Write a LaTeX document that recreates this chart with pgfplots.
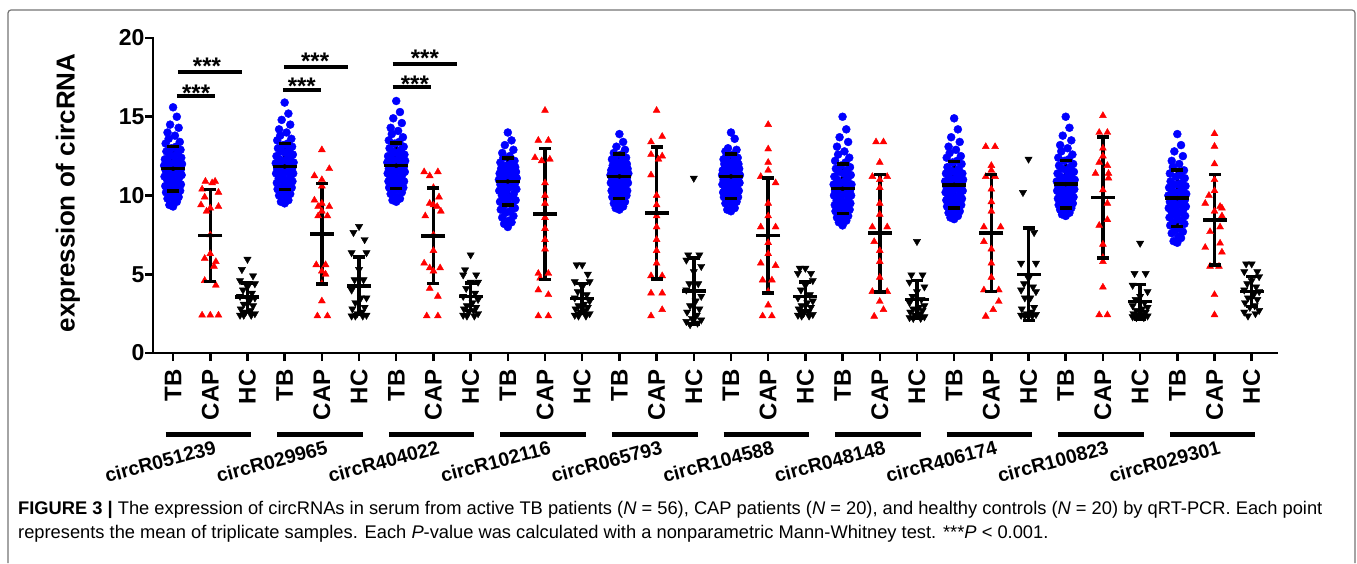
\documentclass[border=0pt]{standalone}
\usepackage{pgfplots}
\pgfplotsset{compat=1.18}
\usepackage{pgfplotstable}
\usepackage{fontspec}
\setmainfont{Liberation Sans}

% TB (N=56): jitter dx, then one column per circRNA
\pgfplotstableread{
dx t1 t2 t3 t4 t5 t6 t7 t8 t9 t10
0.00 15.6 15.9 16.0 14.0 13.9 14.0 15.0 14.9 15.0 13.9
0.10 15.0 15.2 15.3 13.5 13.4 13.6 14.2 14.2 14.3 13.2
-0.08 14.5 14.8 14.9 13.2 13.1 13.0 13.7 13.7 13.8 12.8
0.15 14.3 14.5 14.6 12.9 12.9 12.9 13.4 13.4 13.5 12.5
-0.15 14.0 14.2 14.3 12.7 12.7 12.8 13.1 13.1 13.2 12.2
0.05 13.8 14.0 14.1 12.5 12.6 12.6 12.8 12.9 13.0 12.0
-0.12 13.6 13.8 13.9 12.4 12.5 12.5 12.6 12.7 12.8 11.8
0.18 13.4 13.6 13.7 12.2 12.4 12.4 12.4 12.5 12.6 11.6
-0.20 13.3 13.5 13.5 12.1 12.3 12.3 12.2 12.4 12.4 11.4
0.08 13.1 13.3 13.4 12.0 12.2 12.2 12.1 12.2 12.3 11.3
-0.04 13.0 13.2 13.3 11.9 12.1 12.1 11.9 12.1 12.2 11.2
0.20 12.9 13.1 13.1 11.8 12.0 12.0 11.8 12.0 12.0 11.1
-0.18 12.8 13.0 13.0 11.7 11.9 12.0 11.7 11.8 11.9 10.9
0.12 12.7 12.9 12.9 11.7 11.9 11.9 11.6 11.7 11.8 10.8
-0.10 12.6 12.8 12.8 11.6 11.8 11.8 11.5 11.6 11.7 10.7
0.02 12.5 12.7 12.7 11.5 11.7 11.7 11.4 11.5 11.6 10.7
0.22 12.4 12.6 12.6 11.5 11.7 11.7 11.3 11.4 11.5 10.6
-0.22 12.3 12.5 12.5 11.4 11.6 11.6 11.2 11.4 11.4 10.5
0.14 12.2 12.4 12.5 11.3 11.6 11.5 11.1 11.3 11.3 10.4
-0.14 12.2 12.3 12.4 11.3 11.5 11.5 11.0 11.2 11.2 10.3
0.06 12.1 12.25 12.3 11.2 11.5 11.4 10.9 11.1 11.2 10.2
-0.06 12.0 12.2 12.2 11.1 11.4 11.4 10.8 11.0 11.1 10.2
0.24 12.0 12.1 12.2 11.1 11.4 11.3 10.7 11.0 11.0 10.1
-0.24 11.9 12.05 12.1 11.0 11.3 11.3 10.7 10.9 10.9 10.0
0.17 11.8 12.0 12.0 11.0 11.3 11.3 10.6 10.8 10.9 10.0
-0.17 11.8 11.9 12.0 11.0 11.3 11.2 10.5 10.8 10.8 9.9
0.10 11.7 11.9 11.9 10.9 11.2 11.2 10.5 10.7 10.8 9.9
-0.01 11.7 11.8 11.9 10.9 11.2 11.2 10.4 10.7 10.7 9.8
-0.10 11.7 11.8 11.8 10.8 11.2 11.1 10.4 10.6 10.7 9.8
0.20 11.6 11.7 11.8 10.8 11.1 11.1 10.3 10.6 10.6 9.7
-0.20 11.6 11.7 11.7 10.7 11.1 11.0 10.3 10.5 10.6 9.6
0.13 11.5 11.6 11.7 10.6 11.0 11.0 10.2 10.5 10.5 9.6
-0.13 11.4 11.6 11.6 10.5 11.0 10.9 10.2 10.4 10.5 9.5
0.04 11.4 11.5 11.6 10.5 10.9 10.9 10.1 10.4 10.4 9.4
0.23 11.3 11.4 11.5 10.4 10.8 10.8 10.0 10.3 10.4 9.3
-0.23 11.2 11.4 11.4 10.3 10.8 10.7 10.0 10.2 10.3 9.2
-0.05 11.1 11.3 11.3 10.2 10.7 10.7 9.9 10.2 10.2 9.2
0.16 11.1 11.2 11.3 10.1 10.6 10.6 9.8 10.1 10.2 9.1
-0.16 11.0 11.1 11.2 10.0 10.6 10.5 9.7 10.0 10.1 9.0
0.08 10.9 11.0 11.1 9.9 10.5 10.5 9.6 9.9 10.0 8.9
-0.08 10.8 11.0 11.0 9.8 10.4 10.4 9.6 9.8 9.9 8.8
0.21 10.7 10.9 10.9 9.7 10.3 10.3 9.5 9.8 9.9 8.7
-0.21 10.6 10.8 10.9 9.6 10.3 10.2 9.4 9.7 9.8 8.6
0.00 10.5 10.7 10.8 9.5 10.2 10.2 9.3 9.6 9.7 8.5
0.12 10.5 10.6 10.7 9.4 10.1 10.1 9.2 9.5 9.7 8.4
-0.12 10.4 10.5 10.6 9.3 10.0 10.0 9.2 9.4 9.6 8.3
0.19 10.3 10.5 10.5 9.2 10.0 9.9 9.1 9.4 9.5 8.2
-0.19 10.2 10.4 10.5 9.1 9.9 9.9 9.0 9.3 9.4 8.1
0.06 10.1 10.3 10.4 9.0 9.8 9.8 8.9 9.2 9.4 7.9
-0.06 10.0 10.2 10.3 8.9 9.7 9.7 8.8 9.1 9.3 7.8
0.15 9.9 10.1 10.2 8.7 9.6 9.6 8.7 9.0 9.2 7.7
-0.15 9.8 10.0 10.1 8.6 9.5 9.5 8.6 8.9 9.1 7.6
0.03 9.7 9.9 9.9 8.4 9.4 9.4 8.5 8.8 9.0 7.4
0.10 9.6 9.7 9.8 8.3 9.3 9.2 8.4 8.7 8.9 7.3
-0.10 9.4 9.6 9.7 8.2 9.2 9.1 8.3 8.6 8.8 7.1
0.00 9.3 9.5 9.6 8.0 9.1 9.0 8.1 8.5 8.7 7.0
}\tbdata

% CAP (N=20): dx and value per circRNA
\pgfplotstableread{
d1 c1 d2 c2 d3 c3 d4 c4 d5 c5 d6 c6 d7 c7 d8 c8 d9 c9 d10 c10
-0.13 10.9 0.00 12.9 -0.25 11.5 0.00 15.4 0.00 15.4 0.00 14.5 -0.10 13.4 -0.15 13.1 0.00 15.07 0.00 13.92
0.13 10.9 0.20 11.7 0.12 11.5 -0.18 13.5 0.15 13.75 0.00 12.95 0.10 13.4 0.10 13.1 -0.10 14.0 0.00 13.12
0.05 10.8 -0.20 11.25 -0.10 11.25 0.09 13.5 -0.15 13.4 0.00 12.1 0.00 12.1 0.00 11.9 0.12 14.0 0.00 12.0
-0.22 10.4 0.00 11.0 0.00 10.5 -0.27 12.4 -0.15 12.6 0.00 11.6 -0.20 11.2 0.00 11.6 0.00 13.0 0.00 11.0
0.22 10.2 0.00 10.6 0.15 9.9 0.13 12.3 0.15 12.5 -0.20 11.2 0.20 11.2 -0.15 11.2 0.00 12.5 0.00 10.3
-0.15 9.9 -0.20 9.7 -0.10 9.5 -0.09 12.2 0.05 12.3 0.20 10.8 0.00 11.0 0.10 11.2 -0.10 12.1 -0.15 10.0
-0.25 9.4 0.00 9.5 0.00 9.4 0.00 10.8 -0.15 11.3 0.00 9.5 0.00 10.5 0.00 10.4 0.12 11.9 -0.25 9.5
0.22 9.3 0.20 9.3 0.10 9.3 0.00 10.0 0.00 10.0 0.00 8.7 0.00 9.5 0.00 9.6 -0.20 11.4 0.15 9.3
0.00 9.2 -0.10 9.3 0.20 9.0 0.00 9.5 0.00 9.4 -0.20 8.0 0.00 8.8 0.00 9.0 0.15 11.4 0.20 9.2
-0.10 9.0 0.00 9.0 -0.22 8.7 0.00 8.6 0.00 8.7 0.20 8.0 -0.20 8.0 -0.20 8.0 0.15 11.1 0.00 9.0
0.00 7.5 -0.10 8.7 0.00 7.5 0.00 7.9 0.00 8.0 0.00 7.0 0.20 8.0 0.25 8.0 0.00 10.35 0.20 8.7
0.00 6.3 0.15 8.7 0.00 6.5 0.00 7.2 0.00 7.2 0.00 6.3 -0.15 7.07 -0.20 7.07 0.12 9.5 0.15 8.0
-0.15 6.0 -0.15 5.6 -0.25 5.7 0.00 6.6 0.00 6.5 -0.20 5.7 0.00 6.5 0.00 6.6 0.12 8.46 -0.12 7.7
0.15 5.8 0.10 5.6 -0.10 5.4 -0.18 5.05 0.00 5.7 0.20 5.55 0.00 5.8 0.00 5.7 -0.10 8.1 0.15 6.97
0.10 5.5 0.00 5.2 0.18 5.4 0.09 5.05 -0.15 4.9 -0.15 4.63 0.00 4.8 0.00 4.8 0.00 6.9 -0.25 6.7
-0.15 4.6 0.10 5.0 0.00 5.2 -0.13 4.75 0.15 4.9 0.10 4.63 -0.20 3.9 -0.20 4.0 0.00 6.06 0.20 6.4
0.15 4.3 0.00 4.4 -0.10 4.1 -0.18 4.0 -0.15 3.8 0.00 3.9 0.20 3.9 0.20 4.0 0.00 5.8 -0.12 5.5
-0.22 2.4 0.00 3.3 0.12 3.6 0.09 3.7 0.15 3.8 0.00 3.04 0.00 3.27 0.20 3.27 0.00 4.18 0.12 5.5
0.00 2.4 -0.12 2.35 -0.18 2.35 -0.18 2.35 0.15 2.75 -0.15 2.35 0.10 2.75 0.05 2.75 -0.10 2.42 0.00 3.7
0.22 2.4 0.15 2.35 0.12 2.35 0.09 2.35 -0.15 2.35 0.10 2.35 -0.15 2.33 -0.15 2.33 0.12 2.42 0.00 2.42
}\capdata

% HC (N=20)
\pgfplotstableread{
dx h1 h2 h3 h4 h5 h6 h7 h8 h9 h10
0.00 5.95 8.03 6.23 5.6 11.1 5.38 7.08 12.31 6.97 5.66
-0.15 5.3 7.65 5.28 5.6 6.23 5.38 4.96 10.19 5.05 5.66
0.15 4.9 7.2 4.96 5.0 6.23 5.05 4.96 7.65 5.05 5.17
-0.20 4.6 6.37 4.96 4.53 5.9 5.05 4.5 5.7 4.3 5.17
0.20 4.4 6.37 4.5 4.53 5.5 4.6 4.2 5.7 3.9 4.85
0.00 4.2 5.3 4.5 4.2 5.17 4.3 3.9 4.75 3.6 4.6
-0.12 4.0 4.65 4.1 3.9 4.4 4.0 3.6 4.4 3.4 4.4
0.12 3.8 4.65 3.8 3.7 4.4 3.7 3.4 4.2 3.2 4.2
-0.20 3.6 4.0 3.6 3.5 4.0 3.5 3.2 4.0 3.0 4.0
0.20 3.5 3.5 3.4 3.3 3.6 3.3 3.0 3.9 2.9 3.9
0.05 3.3 3.5 3.2 3.1 3.3 3.2 2.9 3.5 2.8 3.7
-0.10 3.1 3.2 3.0 3.0 3.0 3.0 2.8 3.5 2.7 3.5
0.15 3.0 2.9 2.9 2.9 2.8 2.9 2.7 2.9 2.6 3.4
-0.18 2.8 2.8 2.8 2.8 2.6 2.8 2.6 2.8 2.5 3.2
0.08 2.7 2.6 2.7 2.7 2.4 2.6 2.5 2.6 2.45 3.0
-0.05 2.6 2.5 2.6 2.6 2.2 2.5 2.4 2.5 2.4 2.9
0.20 2.5 2.4 2.5 2.5 2.1 2.45 2.3 2.45 2.35 2.7
-0.20 2.4 2.35 2.4 2.4 2.0 2.4 2.25 2.4 2.3 2.6
0.10 2.4 2.35 2.35 2.35 1.9 2.35 2.2 2.35 2.25 2.5
-0.10 2.4 2.35 2.35 2.35 1.8 2.35 2.2 2.35 2.25 2.35
}\hcdata

% mean and SD per column
\pgfplotstableread{
x m s
0 11.70 1.42
1 7.46 2.91
2 3.54 0.89
3 11.84 1.45
4 7.57 3.20
5 4.26 1.82
6 11.89 1.45
7 7.44 3.04
8 3.58 0.87
9 10.89 1.49
10 8.82 4.16
11 3.47 0.95
12 11.21 1.41
13 8.88 4.19
14 3.94 2.10
15 11.21 1.41
16 7.46 3.65
17 3.58 0.92
18 10.43 1.57
19 7.61 3.73
20 3.41 1.20
21 10.68 1.48
22 7.61 3.71
23 5.00 2.95
24 10.72 1.50
25 9.87 3.83
26 3.26 1.10
27 9.83 1.80
28 8.46 2.86
29 3.90 0.95
}\stats

\begin{document}
\begin{tikzpicture}
\path (0pt,0pt) rectangle (1357pt,-563pt);
\begin{axis}[
  at={(153pt,-353pt)}, anchor=south west,
  scale only axis, width=1124pt, height=315pt,
  xmin=-0.54, xmax=29.68, ymin=0, ymax=20,
  axis x line=bottom, axis y line=left,
  axis line style={line width=2.5pt, -, line cap=rect},
  xtick={0,...,29},
  xticklabels={TB,CAP,HC,TB,CAP,HC,TB,CAP,HC,TB,CAP,HC,TB,CAP,HC,TB,CAP,HC,TB,CAP,HC,TB,CAP,HC,TB,CAP,HC,TB,CAP,HC},
  ytick={0,5,10,15,20}, yticklabels={0,5,10,15,20},
  tick align=outside, major tick length=8pt,
  tick style={line width=2.5pt, black},
  xticklabel shift=5pt,
  yticklabel shift=-3pt,
  x tick label style={rotate=90, anchor=east, font=\bfseries\fontsize{24}{28}\selectfont},
  y tick label style={font=\bfseries\fontsize{23}{27}\selectfont},
  clip=false,
]
\pgfplotsinvokeforeach{1,...,10}{
  \addplot[only marks, mark=*, mark size=4pt, mark options={draw=blue, fill=blue}]
    table[x expr=\thisrow{dx}+3*#1-3, y=t#1] {\tbdata};
  \addplot[only marks, mark=triangle*, mark size=4pt, mark options={draw=red, fill=red}]
    table[x expr=\thisrow{d#1}+3*#1-2, y=c#1] {\capdata};
  \addplot[only marks, mark=triangle*, mark size=4.2pt, mark options={draw=black, fill=black, rotate=180}]
    table[x expr=\thisrow{dx}+3*#1-1, y=h#1] {\hcdata};
}
% SD bars, caps and means
\addplot[only marks, mark=none, error bars/.cd, y dir=both, y explicit, error mark=none,
  error bar style={line width=3.5pt, black}]
  table[x=x, y=m, y error=s] {\stats};
\addplot[only marks, mark=-, mark size=6pt, mark options={line width=3.5pt, black}]
  table[x=x, y expr=\thisrow{m}+\thisrow{s}] {\stats};
\addplot[only marks, mark=-, mark size=6pt, mark options={line width=3.5pt, black}]
  table[x=x, y expr=\thisrow{m}-\thisrow{s}] {\stats};
\addplot[only marks, mark=-, mark size=12pt, mark options={line width=3.5pt, black}]
  table[x=x, y=m] {\stats};

% significance
\draw[line width=4pt] (axis cs:0.10,16.34) -- (axis cs:1.13,16.34);
\draw[line width=4pt] (axis cs:0.13,17.82) -- (axis cs:1.84,17.82);
\draw[line width=4pt] (axis cs:2.95,16.70) -- (axis cs:3.99,16.70);
\draw[line width=4pt] (axis cs:2.98,18.14) -- (axis cs:4.69,18.14);
\draw[line width=4pt] (axis cs:5.90,16.91) -- (axis cs:6.94,16.91);
\draw[line width=4pt] (axis cs:5.90,18.35) -- (axis cs:7.64,18.35);
\tikzset{star/.style={anchor=base, inner sep=0pt, font=\bfseries\fontsize{24}{28}\selectfont}}
\node[star] at (axis cs:0.62,15.97) {***};
\node[star] at (axis cs:0.91,17.71) {***};
\node[star] at (axis cs:3.46,16.44) {***};
\node[star] at (axis cs:3.82,17.97) {***};
\node[star] at (axis cs:6.50,16.55) {***};
\node[star] at (axis cs:6.77,18.16) {***};

% group underlines and names
\pgfplotsinvokeforeach{0,...,9}{
  \draw[line width=4.5pt] (axis cs:3*#1-0.2,-5.19) -- (axis cs:3*#1+2.1,-5.19);
}
\tikzset{gname/.style={rotate=15, anchor=east, inner sep=0pt, font=\bfseries\fontsize{19.5}{24}\selectfont}}
\node[gname] at (axis cs:1.14,-5.95) {circR051239};
\node[gname] at (axis cs:4.14,-5.95) {circR029965};
\node[gname] at (axis cs:7.14,-5.95) {circR404022};
\node[gname] at (axis cs:10.14,-5.95) {circR102116};
\node[gname] at (axis cs:13.14,-5.95) {circR065793};
\node[gname] at (axis cs:16.14,-5.95) {circR104588};
\node[gname] at (axis cs:19.14,-5.95) {circR048148};
\node[gname] at (axis cs:22.14,-5.95) {circR406174};
\node[gname] at (axis cs:25.14,-5.95) {circR100823};
\node[gname] at (axis cs:28.14,-5.95) {circR029301};
\end{axis}
\node[rotate=90, font=\bfseries\fontsize{26}{30}\selectfont] at (68pt,-193pt) {expression of circRNA};
\draw[black!55, line width=1.2pt, rounded corners=3pt] (8pt,-563pt) -- (8pt,-10pt) -- (1355pt,-10pt) -- (1355pt,-563pt);
\node[anchor=base west, inner sep=0pt, font=\fontsize{18.3}{22}\selectfont] at (18pt,-514pt)
  {\textbf{FIGURE 3 |} The expression of circRNAs in serum from active TB patients (\textit{N} = 56), CAP patients (\textit{N} = 20), and healthy controls (\textit{N} = 20) by qRT-PCR. Each point};
\node[anchor=base west, inner sep=0pt, font=\fontsize{18.3}{22}\selectfont] at (18pt,-538pt)
  {represents the mean of triplicate samples. Each \textit{P}-value was calculated with a nonparametric Mann-Whitney test. ***\textit{P} < 0.001.};
\end{tikzpicture}
\end{document}
